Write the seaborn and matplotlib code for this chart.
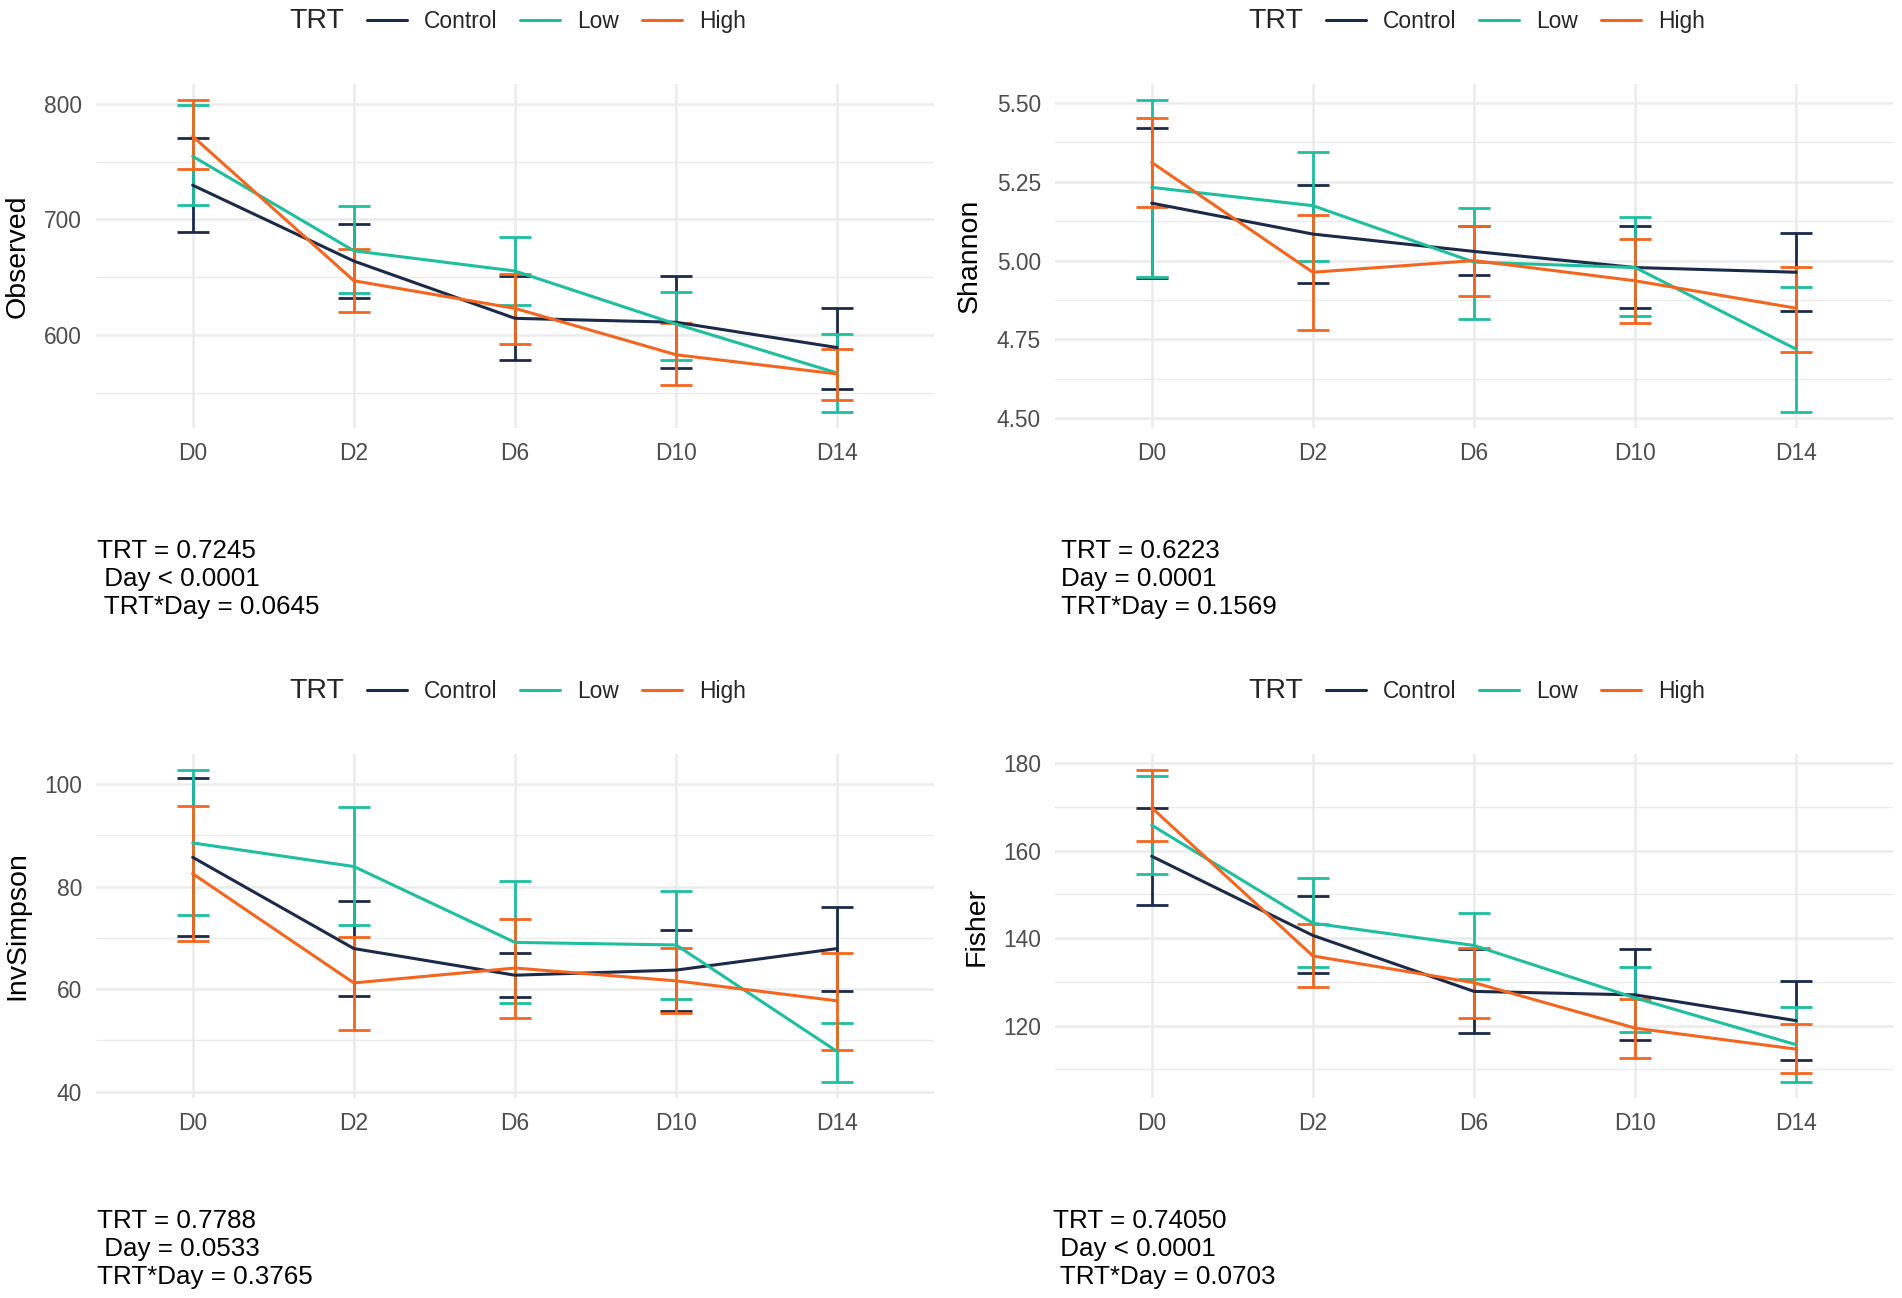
import numpy as np
import pandas as pd
import matplotlib
matplotlib.use("Agg")
import matplotlib.pyplot as plt
from matplotlib.lines import Line2D
from matplotlib.ticker import MultipleLocator, FormatStrFormatter
import seaborn as sns

days = ["D0", "D2", "D6", "D10", "D14"]
groups = ["Control", "Low", "High"]
palette = {"Control": "#1c2a4a", "Low": "#1dbf9f", "High": "#f4661f"}

# Observed (mean, lower, upper)
observed_mean = {"Control": [729.5, 663.9, 614.4, 611.0, 589.1],
                 "Low": [754.5, 672.8, 655.3, 609.4, 567.1],
                 "High": [771.8, 646.9, 623.0, 582.9, 566.3]}
observed_lo = {"Control": [689.0, 632.2, 578.4, 571.4, 552.9],
               "Low": [712.8, 636.0, 625.6, 578.6, 533.1],
               "High": [743.9, 619.6, 592.2, 556.6, 543.7]}
observed_hi = {"Control": [770.6, 696.4, 651.2, 650.6, 623.7],
               "Low": [798.6, 711.7, 684.3, 637.1, 600.9],
               "High": [803.5, 674.0, 652.7, 610.6, 588.0]}

# Shannon
shannon_mean = {"Control": [5.182, 5.084, 5.029, 4.978, 4.963],
                "Low": [5.232, 5.174, 4.995, 4.978, 4.719],
                "High": [5.311, 4.963, 5.000, 4.936, 4.849]}
shannon_lo = {"Control": [4.945, 4.929, 4.955, 4.849, 4.839],
              "Low": [4.947, 4.998, 4.816, 4.823, 4.519],
              "High": [5.171, 4.780, 4.887, 4.802, 4.711]}
shannon_hi = {"Control": [5.419, 5.239, 5.108, 5.111, 5.088],
              "Low": [5.510, 5.345, 5.168, 5.139, 4.917],
              "High": [5.453, 5.144, 5.108, 5.067, 4.981]}

# InvSimpson
invsimpson_mean = {"Control": [85.7, 67.9, 62.7, 63.7, 67.9],
                   "Low": [88.5, 83.9, 69.1, 68.6, 47.8],
                   "High": [82.5, 61.2, 64.1, 61.6, 57.7]}
invsimpson_lo = {"Control": [70.3, 58.7, 58.4, 55.7, 59.7],
                 "Low": [74.4, 72.5, 57.2, 58.1, 41.8],
                 "High": [69.4, 52.0, 54.4, 55.3, 48.2]}
invsimpson_hi = {"Control": [101.2, 77.1, 67.0, 71.6, 76.0],
                 "Low": [102.8, 95.6, 81.0, 79.2, 53.4],
                 "High": [95.8, 70.2, 73.6, 68.1, 67.1]}

# Fisher
fisher_mean = {"Control": [158.7, 140.6, 127.8, 127.0, 121.1],
               "Low": [165.8, 143.4, 138.3, 126.3, 115.6],
               "High": [169.8, 135.9, 129.8, 119.4, 114.6]}
fisher_lo = {"Control": [147.6, 132.1, 118.3, 116.7, 112.1],
             "Low": [154.7, 133.4, 130.6, 118.5, 107.0],
             "High": [162.1, 128.9, 121.8, 112.6, 109.2]}
fisher_hi = {"Control": [169.8, 149.5, 137.5, 137.5, 130.2],
             "Low": [177.1, 153.7, 145.8, 133.4, 124.2],
             "High": [178.5, 143.1, 137.8, 126.1, 120.4]}

captions = ["TRT = 0.7245\n Day < 0.0001\n TRT*Day = 0.0645",
            "TRT = 0.6223\nDay = 0.0001\nTRT*Day = 0.1569",
            "TRT = 0.7788\n Day = 0.0533\nTRT*Day = 0.3765",
            "TRT = 0.74050\n Day < 0.0001\n TRT*Day = 0.0703"]

panels = [
    ("Observed", observed_mean, observed_lo, observed_hi, 100, "%.0f"),
    ("Shannon", shannon_mean, shannon_lo, shannon_hi, 0.25, "%.2f"),
    ("InvSimpson", invsimpson_mean, invsimpson_lo, invsimpson_hi, 20, "%.0f"),
    ("Fisher", fisher_mean, fisher_lo, fisher_hi, 20, "%.0f"),
]

sns.set_theme(style="white")
plt.rcParams["font.family"] = ["Liberation Sans", "DejaVu Sans"]

W, H = 1902, 1298
fig = plt.figure(figsize=(W / 100, H / 100), dpi=100)
fig.patch.set_facecolor("white")

# panel rectangles in pixels: left, top, width, height
rects = [(96, 84, 838, 344), (1055, 84, 838, 344),
         (96, 754, 838, 344), (1055, 754, 838, 344)]
# caption x offsets from panel left (pixels)
cap_dx = [1, 6, 1, -2]

for i, (name, mean, lo, hi, step, fmt) in enumerate(panels):
    l, t, w, h = rects[i]
    ax = fig.add_axes([l / W, 1 - (t + h) / H, w / W, h / H])

    rows = []
    for g in groups:
        for d, m, a, b in zip(days, mean[g], lo[g], hi[g]):
            rows.append({"Day": d, "TRT": g, "value": m, "lo": a, "hi": b})
    df = pd.DataFrame(rows)

    for g in groups:
        sub = df[df["TRT"] == g]
        xs = [days.index(d) for d in sub["Day"]]
        ax.errorbar(xs, sub["value"],
                    yerr=[sub["value"] - sub["lo"], sub["hi"] - sub["value"]],
                    fmt="none", ecolor=palette[g], elinewidth=2.0,
                    capsize=11.6, capthick=2.0, zorder=3)
    df["x"] = df["Day"].map(days.index)
    sns.lineplot(data=df, x="x", y="value", hue="TRT", hue_order=groups,
                 palette=palette, linewidth=2.2, sort=False, legend=False,
                 ax=ax, zorder=4)

    # axis limits with ggplot-like 5% expansion
    ymin = min(min(v) for v in lo.values())
    ymax = max(max(v) for v in hi.values())
    pad = (ymax - ymin) * 0.05
    ax.set_ylim(ymin - pad, ymax + pad)
    ax.set_xlim(-0.6, 4.6)
    ax.set_xticks(range(len(days)))
    ax.set_xticklabels(days)
    ax.yaxis.set_major_locator(MultipleLocator(step))
    ax.yaxis.set_minor_locator(MultipleLocator(step / 2))
    ax.yaxis.set_major_formatter(FormatStrFormatter(fmt))

    ax.grid(True, which="major", axis="both", color="#ebebeb", linewidth=1.8, zorder=0)
    ax.grid(True, which="minor", axis="y", color="#ebebeb", linewidth=1.0, zorder=0)
    ax.set_axisbelow(True)
    for s in ax.spines.values():
        s.set_visible(False)
    ax.tick_params(axis="both", which="both", length=0, labelsize=16.4,
                   labelcolor="#4d4d4d", pad=10)
    ax.set_xlabel("")
    ax.set_ylabel(name, fontsize=20.5, color="black", labelpad=10)

    handles = [Line2D([], [], color="none")] + \
              [Line2D([], [], color=palette[g], linewidth=2.2) for g in groups]
    leg = ax.legend(handles, ["TRT"] + groups, loc="center", ncol=4,
                    bbox_to_anchor=(0.5 - 26 / w, 1 + 63 / h), frameon=False,
                    fontsize=16.4, handlelength=1.75, handletextpad=0.75,
                    columnspacing=1.0)
    leg.get_texts()[0].set_fontsize(20.5)

    ax.text(cap_dx[i] / w, -111 / h, captions[i], transform=ax.transAxes,
            ha="left", va="top", fontsize=18.7, linespacing=1.2, color="black")

fig.savefig("out.png", dpi=100, facecolor="white")
